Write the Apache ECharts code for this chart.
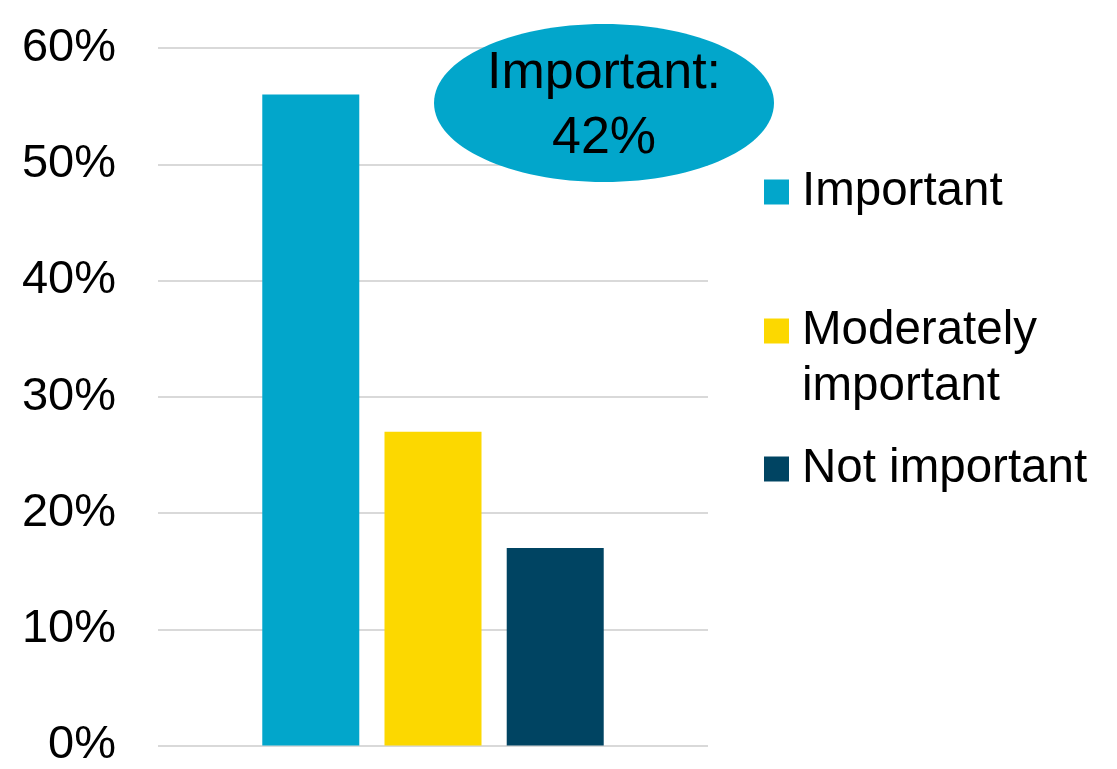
<!DOCTYPE html>
<html>
<head>
<meta charset="utf-8">
<script src="https://cdn.jsdelivr.net/npm/echarts@6/dist/echarts.min.js"></script>
<style>
  html, body { margin: 0; padding: 0; background: #ffffff; }
  #chart { width: 1117px; height: 769px; }
</style>
</head>
<body>
<div id="chart"></div>
<script>
// Share of respondents by rating (percent)
const categories = ['Important', 'Moderately important', 'Not important'];
const legendLabels = ['Important', '\nModerately\nimportant', 'Not important'];
const values = [56, 27, 17];
const colors = ['#02A6CB', '#FCD800', '#004462'];
const yTicks = [0, 10, 20, 30, 40, 50, 60];
const calloutText = 'Important:\n42%';

const FONT = '"Liberation Sans", Arial, sans-serif';

const series = categories.map((name, i) => ({
  name: name,
  type: 'bar',
  data: [values[i]],
  barWidth: 97,
  barGap: '26%',
  itemStyle: { color: colors[i] },
  emphasis: { disabled: true }
}));

// One legend block per item; the two-line entry carries a blank leading
// line so its swatch sits level with the first line of text
const legendTops = [164, 247, 441];
const legends = categories.map((name, i) => ({
  data: [{ name: name }],
  left: 764,
  top: legendTops[i],
  padding: 0,
  orient: 'vertical',
  itemWidth: 25,
  itemHeight: 25,
  icon: 'rect',
  selectedMode: false,
  formatter: () => legendLabels[i],
  textStyle: {
    fontFamily: FONT,
    fontSize: 47.5,
    lineHeight: 56,
    color: '#000000',
    padding: [0, 0, 0, 8]
  }
}));

const chart = echarts.init(document.getElementById('chart'), null, { renderer: 'canvas' });
chart.setOption({
  animation: false,
  backgroundColor: '#ffffff',
  grid: { left: 158, right: 409, top: 48, bottom: 19, containLabel: false },
  xAxis: {
    type: 'category',
    data: [''],
    axisLine: { show: false },
    axisTick: { show: false },
    axisLabel: { show: false }
  },
  yAxis: {
    type: 'value',
    min: yTicks[0],
    max: yTicks[yTicks.length - 1],
    interval: yTicks[1] - yTicks[0],
    axisLine: { show: false },
    axisTick: { show: false },
    axisLabel: {
      formatter: '{value}%',
      fontFamily: FONT,
      fontSize: 47,
      color: '#000000',
      margin: 42
    },
    splitLine: { lineStyle: { color: '#D9D9D9', width: 2 } }
  },
  legend: legends,
  series: series,
  graphic: [
    {
      type: 'group',
      left: 434,
      top: 24,
      z: 100,
      children: [
        {
          type: 'ellipse',
          shape: { cx: 170, cy: 79, rx: 170, ry: 79 },
          style: { fill: colors[0] },
          z: 100
        },
        {
          type: 'text',
          x: 170,
          y: 82,
          z: 101,
          style: {
            text: calloutText,
            fontFamily: FONT,
            fontSize: 52,
            lineHeight: 65,
            fill: '#000000',
            align: 'center',
            verticalAlign: 'middle'
          }
        }
      ]
    }
  ]
});
</script>
</body>
</html>
